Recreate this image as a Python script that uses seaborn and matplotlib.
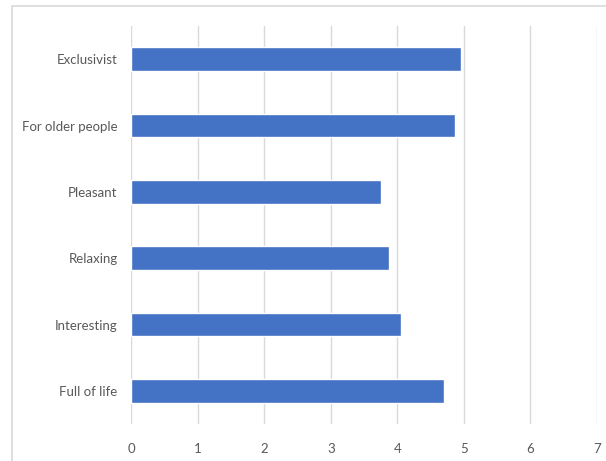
import matplotlib
matplotlib.use("Agg")
import matplotlib.pyplot as plt
import matplotlib.patches as mpatches
import seaborn as sns
import pandas as pd

categories = ["Exclusivist", "For older people", "Pleasant", "Relaxing", "Interesting", "Full of life"]
values = [4.96, 4.86, 3.75, 3.88, 4.05, 4.70]
x_ticks = [0, 1, 2, 3, 4, 5, 6, 7]

sns.set_theme(style="white")
plt.rcParams["font.family"] = ["Lato", "DejaVu Sans"]

df = pd.DataFrame({"category": categories, "value": values})

fig = plt.figure(figsize=(6.06, 4.61), dpi=100)
W, H = 606, 461
ax = fig.add_axes([131.4 / W, 1 - 424 / H, (597 - 131.4) / W, (424 - 26) / H])

sns.barplot(data=df, y="category", x="value", orient="h", color="#4472C4",
            saturation=1, width=0.36, ax=ax, order=categories)

ax.set_xlim(0, 7)
ax.set_ylim(5.5, -0.5)
ax.set_xticks(x_ticks)
ax.set_xticklabels([str(t) for t in x_ticks])
ax.set_xlabel("")
ax.set_ylabel("")
ax.grid(axis="x", color="#d9d9d9", linewidth=1)
ax.set_axisbelow(True)
for s in ax.spines.values():
    s.set_visible(False)
ax.tick_params(axis="both", length=0, colors="#595959", labelsize=9.5)
ax.tick_params(axis="x", pad=14)
ax.tick_params(axis="y", pad=10)

frame = mpatches.Rectangle((12 / W, -0.1), 1.2, 1 - 6 / H + 0.1, transform=fig.transFigure,
                           fill=False, edgecolor="#d9d9d9", linewidth=1.2, clip_on=False)
fig.patches.append(frame)

fig.savefig("out.png", dpi=100)
